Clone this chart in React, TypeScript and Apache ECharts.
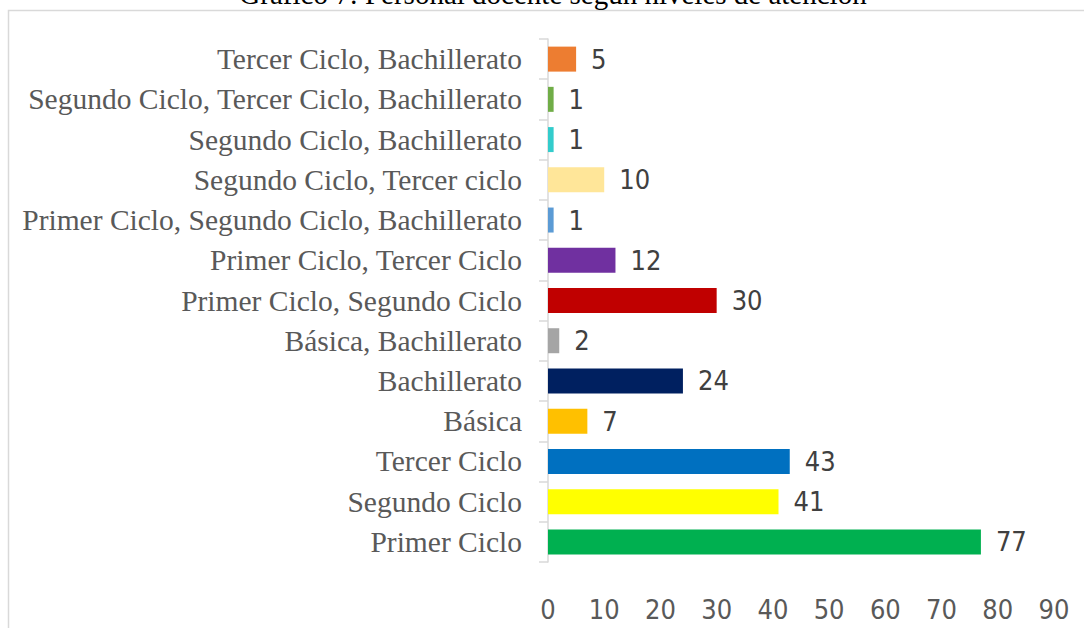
import React, { useEffect, useRef } from "react";
import * as echarts from "echarts";

const titleText = "Gráfico 7: Personal docente según niveles de atención";

const categories = [
  "Primer Ciclo",
  "Segundo Ciclo",
  "Tercer Ciclo",
  "Básica",
  "Bachillerato",
  "Básica, Bachillerato",
  "Primer Ciclo, Segundo Ciclo",
  "Primer Ciclo, Tercer Ciclo",
  "Primer Ciclo, Segundo Ciclo, Bachillerato",
  "Segundo Ciclo, Tercer ciclo",
  "Segundo Ciclo, Bachillerato",
  "Segundo Ciclo, Tercer Ciclo, Bachillerato",
  "Tercer Ciclo, Bachillerato",
];

const values = [77, 41, 43, 7, 24, 2, 30, 12, 1, 10, 1, 1, 5];

const barColors = [
  "#00B050",
  "#FFFF00",
  "#0070C0",
  "#FFC000",
  "#002060",
  "#A5A5A5",
  "#C00000",
  "#7030A0",
  "#5B9BD5",
  "#FFE699",
  "#33CCCC",
  "#70AD47",
  "#ED7D31",
];

const xMin = 0;
const xMax = 90;
const xInterval = 10;

export default function App() {
  const ref = useRef<HTMLDivElement>(null);

  useEffect(() => {
    if (!ref.current) return;
    const chart = echarts.init(ref.current, null, { renderer: "svg" });
    const valueFont = "'DejaVu Sans Condensed', 'Liberation Sans Narrow', 'Open Sans', sans-serif";
    chart.setOption({
      animation: false,
      backgroundColor: "#ffffff",
      graphic: [
        {
          type: "rect",
          shape: { x: 8.5, y: 10.5, width: 1200, height: 800 },
          style: { fill: "none", stroke: "#d9d9d9", lineWidth: 1.5 },
          silent: true,
          z: 0,
        },
        {
          type: "text",
          x: 553,
          y: -6,
          style: {
            text: titleText,
            font: "29px 'Liberation Serif', 'Times New Roman', serif",
            fill: "#000000",
            align: "center",
            verticalAlign: "middle",
          },
          z: 10,
        },
      ],
      grid: { left: 548, top: 39, right: 30, bottom: 66, containLabel: false },
      xAxis: {
        type: "value",
        min: xMin,
        max: xMax,
        interval: xInterval,
        axisLine: { show: false },
        axisTick: { show: false },
        splitLine: { show: false },
        axisLabel: {
          color: "#595959",
          fontSize: 27,
          fontFamily: valueFont,
          margin: 34,
        },
      },
      yAxis: {
        type: "category",
        data: categories,
        axisLine: { show: true, lineStyle: { color: "#d9d9d9", width: 1.5 } },
        axisTick: { show: true, length: 9, lineStyle: { color: "#d9d9d9", width: 1.5 } },
        axisLabel: {
          color: "#595959",
          fontSize: 29.5,
          fontFamily: "'Liberation Serif', 'Times New Roman', serif",
          margin: 26,
        },
      },
      series: [
        {
          type: "bar",
          data: values.map((v, i) => ({ value: v, itemStyle: { color: barColors[i] } })),
          barWidth: 25,
          label: {
            show: true,
            position: "right",
            distance: 15,
            color: "#404040",
            fontSize: 27,
            fontFamily: valueFont,
          },
        },
      ],
    });
    return () => chart.dispose();
  }, []);

  return (
    <div
      ref={ref}
      style={{ position: "fixed", left: 0, top: 0, width: 1084, height: 628 }}
    />
  );
}
